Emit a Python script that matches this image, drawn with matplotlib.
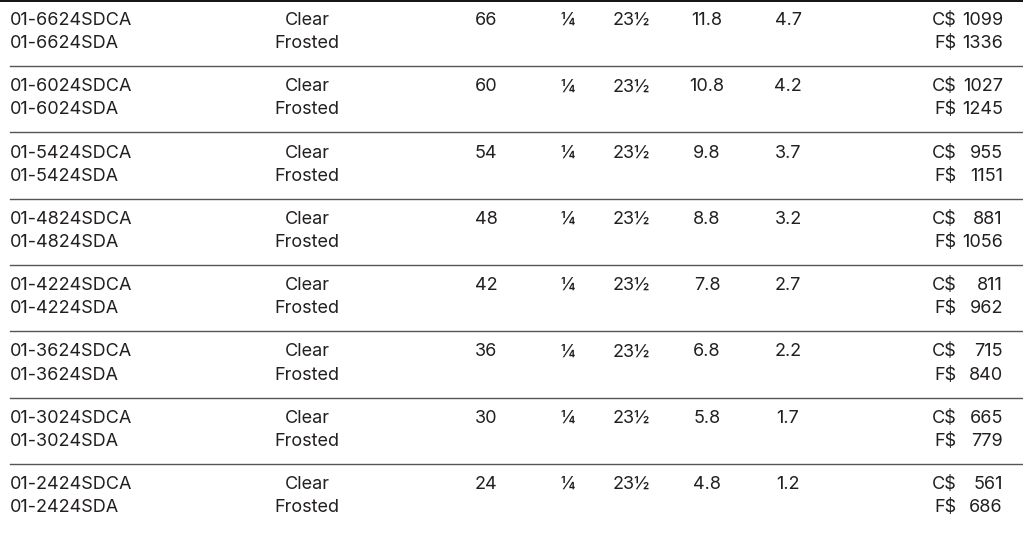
import matplotlib.pyplot as plt

# table data, top to bottom
model_clear = ['01-6624SDCA', '01-6024SDCA', '01-5424SDCA', '01-4824SDCA',
               '01-4224SDCA', '01-3624SDCA', '01-3024SDCA', '01-2424SDCA']
model_frosted = ['01-6624SDA', '01-6024SDA', '01-5424SDA', '01-4824SDA',
                 '01-4224SDA', '01-3624SDA', '01-3024SDA', '01-2424SDA']
finish = ['Clear', 'Frosted']
width_in = [66, 60, 54, 48, 42, 36, 30, 24]
thickness = '¼'
height_in = '23½'
weight_a = [11.8, 10.8, 9.8, 8.8, 7.8, 6.8, 5.8, 4.8]
weight_b = [4.7, 4.2, 3.7, 3.2, 2.7, 2.2, 1.7, 1.2]
price_clear = [1099, 1027, 955, 881, 811, 715, 665, 561]
price_frosted = [1336, 1245, 1151, 1056, 962, 840, 779, 686]

W, H = 1023, 541
fig = plt.figure(figsize=(W / 100, H / 100), dpi=100)
ax = fig.add_axes([0, 0, 1, 1])
ax.set_xlim(0, W)
ax.set_ylim(H, 0)
ax.axis('off')

txt = dict(fontsize=13, color='#231f20', family=['Inter', 'DejaVu Sans'], va='center')
row_h = 66.3

ax.plot([0, W], [0.8, 0.8], color='#111111', lw=1.4)

for i in range(len(model_clear)):
    y1 = 20.5 + i * row_h
    y2 = 43.5 + i * row_h
    ax.text(10, y1, model_clear[i], ha='left', **txt)
    ax.text(10, y2, model_frosted[i], ha='left', **txt)
    ax.text(307, y1, finish[0], ha='center', **txt)
    ax.text(307, y2, finish[1], ha='center', **txt)
    ax.text(486, y1, str(width_in[i]), ha='center', **txt)
    ax.text(568, y1, thickness, ha='center', **txt)
    ax.text(631, y1, height_in, ha='center', **txt)
    ax.text(707, y1, f'{weight_a[i]:.1f}', ha='center', **txt)
    ax.text(788, y1, f'{weight_b[i]:.1f}', ha='center', **txt)
    ax.text(957, y1, 'C$', ha='right', **txt)
    ax.text(957, y2, 'F$', ha='right', **txt)
    ax.text(1003, y1, str(price_clear[i]), ha='right', **txt)
    ax.text(1003, y2, str(price_frosted[i]), ha='right', **txt)
    if i < len(model_clear) - 1:
        yl = 66 + i * row_h
        ax.plot([10, W], [yl, yl], color='#555555', lw=1.0)

fig.savefig('out.png', dpi=100)
